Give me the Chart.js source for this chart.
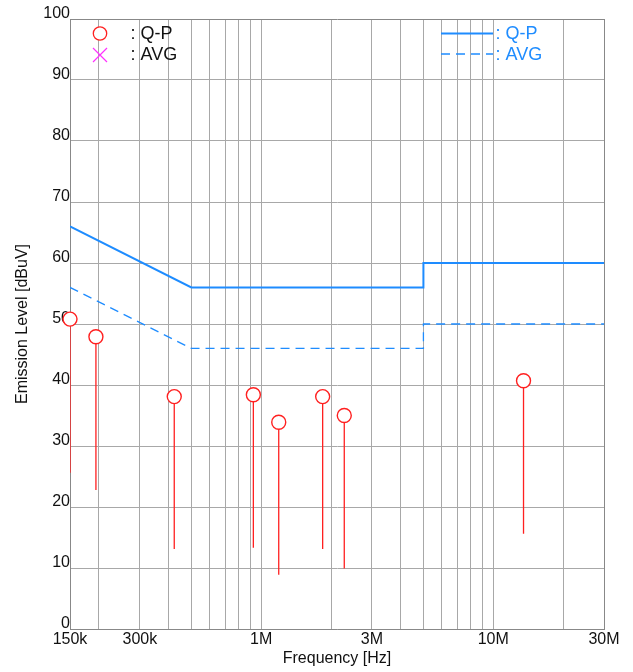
<!DOCTYPE html>
<html>
<head>
<meta charset="utf-8">
<script src="https://cdn.jsdelivr.net/npm/chart.js@4/dist/chart.umd.min.js"></script>
<style>
html,body{margin:0;padding:0;background:#fff;}
#wrap{width:633px;height:672px;position:relative;}
</style>
</head>
<body>
<div id="wrap"><canvas id="c" width="633" height="672"></canvas></div>
<script>
// ---- data ----
const peakFreqs = [150000, 194000, 422000, 925000, 1190000, 1840000, 2280000, 13500000];
const qpValues  = [50.8, 47.9, 38.1, 38.4, 33.9, 38.1, 35.0, 40.7];
const stemBottoms = [25.6, 22.8, 13.1, 13.3, 8.9, 13.1, 9.9, 15.6];

const limitFreqs = [150000, 500000, 5000000, 5000000, 30000000];
const qpLimit  = [66, 56, 56, 60, 60];
const avgLimit = [56, 46, 46, 50, 50];

const gridFreqs = [150000, 200000, 300000, 400000, 500000, 600000, 700000, 800000, 900000,
  1000000, 2000000, 3000000, 4000000, 5000000, 6000000, 7000000, 8000000, 9000000,
  10000000, 20000000, 30000000];
const xTickLabels = {150000:'150k', 300000:'300k', 1000000:'1M', 3000000:'3M', 10000000:'10M', 30000000:'30M'};

// ---- derived ----
const circlePts = peakFreqs.map((f,i)=>({x:f, y:qpValues[i]}));
const stemPts = [];
peakFreqs.forEach((f,i)=>{ stemPts.push({x:f,y:stemBottoms[i]},{x:f,y:qpValues[i]},{x:f,y:null}); });
const qpLimPts = limitFreqs.map((f,i)=>({x:f,y:qpLimit[i]}));
const avgLimPts = limitFreqs.map((f,i)=>({x:f,y:avgLimit[i]}));

const BLUE = '#1e8cff';
const RED = '#ff2020';
const FONT = '"Liberation Sans", Arial, sans-serif';

const legendPlugin = {
  id:'customLegend',
  afterDraw(chart){
    const ctx = chart.ctx;
    ctx.save();
    ctx.font = '18px ' + FONT;
    ctx.textBaseline = 'middle';
    ctx.textAlign = 'left';
    // left legend
    ctx.strokeStyle = RED; ctx.lineWidth = 1.3; ctx.fillStyle='#fff';
    ctx.beginPath(); ctx.arc(100, 33.5, 6.7, 0, Math.PI*2); ctx.fill(); ctx.stroke();
    ctx.strokeStyle = '#ff30ff'; ctx.lineWidth = 1.2;
    ctx.beginPath(); ctx.moveTo(93,48); ctx.lineTo(107,62); ctx.moveTo(107,48); ctx.lineTo(93,62); ctx.stroke();
    ctx.fillStyle = '#111';
    ctx.fillText(': Q-P', 130.5, 34);
    ctx.fillText(': AVG', 130.5, 55.5);
    // right legend
    ctx.strokeStyle = BLUE; ctx.lineWidth = 2;
    ctx.beginPath(); ctx.moveTo(441,33.5); ctx.lineTo(493,33.5); ctx.stroke();
    ctx.lineWidth = 1.3; ctx.setLineDash([9,6]);
    ctx.beginPath(); ctx.moveTo(441,54); ctx.lineTo(493,54); ctx.stroke();
    ctx.setLineDash([]);
    ctx.fillStyle = BLUE;
    ctx.fillText(': Q-P', 495.5, 34);
    ctx.fillText(': AVG', 495.5, 55.5);
    ctx.restore();
  }
};

new Chart(document.getElementById('c'), {
  type:'scatter',
  data:{
    datasets:[
      {label:'Q-P', data:circlePts, pointStyle:'circle', pointRadius:7, pointHoverRadius:7,
       pointBackgroundColor:'#fff', pointBorderColor:RED, pointBorderWidth:1.4, showLine:false, clip:false},
      {label:'stems', data:stemPts, showLine:true, spanGaps:false, pointRadius:0, borderColor:RED, borderWidth:1.3},
      {label:'Q-P limit', data:qpLimPts, showLine:true, pointRadius:0, borderColor:BLUE, borderWidth:2},
      {label:'AVG limit', data:avgLimPts, showLine:true, pointRadius:0, borderColor:BLUE, borderWidth:1.3, borderDash:[9,6]}
    ]
  },
  options:{
    responsive:false, animation:false, devicePixelRatio:1,
    layout:{padding:{top:19, right:29, left:0, bottom:0}},
    plugins:{legend:{display:false}, tooltip:{enabled:false}},
    scales:{
      x:{
        type:'logarithmic', min:150000, max:30000000,
        afterBuildTicks(axis){ axis.ticks = gridFreqs.map(v=>({value:v})); },
        afterFit(scale){ scale.height = 43; },
        ticks:{autoSkip:false, maxRotation:0, minRotation:0, padding:1, color:'#111',
          font:{family:FONT, size:16},
          callback:(v)=> xTickLabels[v] || ''},
        grid:{drawTicks:false, color:(c)=> (c.tick && c.tick.value===30000000) ? '#888' : '#a8a8a8', lineWidth:1},
        border:{color:'#888', width:1},
        title:{display:true, text:'Frequency [Hz]', color:'#111', font:{family:FONT, size:16}, padding:{top:0,bottom:4}}
      },
      y:{
        min:0, max:100,
        afterFit(scale){ scale.width = 70; },
        ticks:{stepSize:10, padding:0, labelOffset:-5, color:'#111', font:{family:FONT, size:16}},
        grid:{drawTicks:false, color:(c)=> (c.tick && c.tick.value===100) ? '#888' : '#a8a8a8', lineWidth:1},
        border:{color:'#888', width:1},
        title:{display:true, text:'Emission Level [dBuV]', color:'#111', font:{family:FONT, size:16}, padding:{top:13,bottom:0}}
      }
    }
  },
  plugins:[legendPlugin]
});
</script>
</body>
</html>
